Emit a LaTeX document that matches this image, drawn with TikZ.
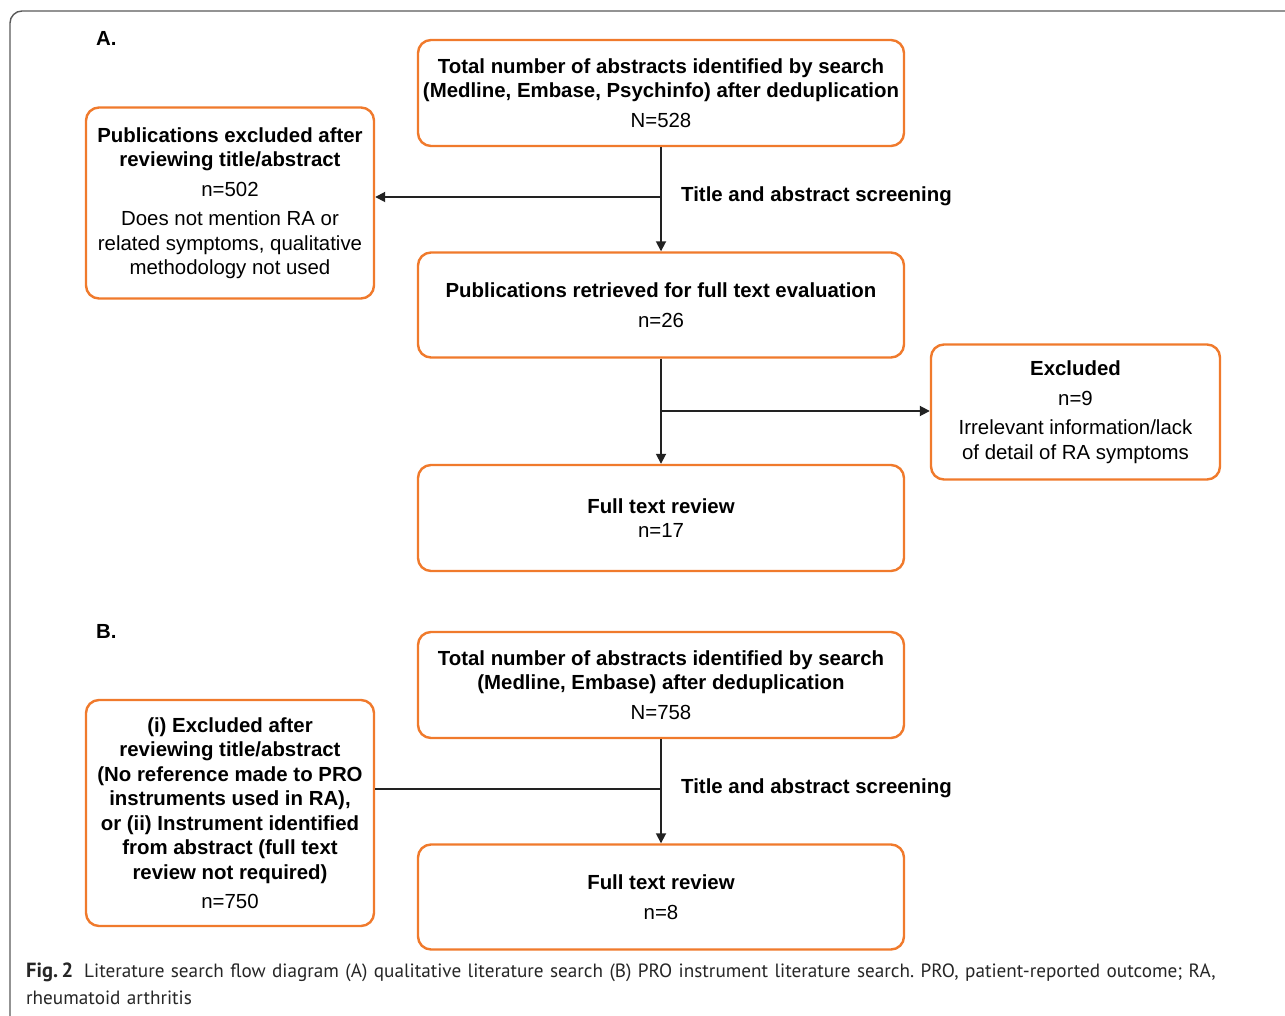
\documentclass[tikz,border=0pt]{standalone}
\usepackage{fontspec}
\setmainfont{Liberation Sans}
\newfontfamily\capfont{PT Sans}
\usetikzlibrary{arrows.meta}
\definecolor{boxorange}{RGB}{240,122,44}
\definecolor{linegray}{RGB}{34,34,34}
\definecolor{framegray}{RGB}{90,90,90}
\tikzset{
  fbox/.style={draw=boxorange, line width=2.4pt, rounded corners=13pt, align=center, inner sep=0pt,
    font=\fontsize{20.4}{24.5}\selectfont},
  conn/.style={draw=linegray, line width=1.8pt},
  arr/.style={conn, -{Triangle[length=10pt,width=10pt]}},
  lbl/.style={font=\fontsize{20.4}{24}\selectfont\bfseries, anchor=west, inner sep=0pt},
  plabel/.style={font=\fontsize{20.4}{24}\selectfont\bfseries, anchor=west, inner sep=0pt}
}
\begin{document}
\frenchspacing
\begin{tikzpicture}[x=1pt,y=-1pt]
\useasboundingbox (0,0) rectangle (1285,1016);
\fill[white] (0,0) rectangle (1285,1016);
\draw[framegray, line width=1.4pt, rounded corners=12pt] (10,1020) -- (10,11) -- (1290,11);

% Part A
\node[plabel] (la) at (96,38) {A.};
\node[fbox, minimum width=486pt, minimum height=106pt] (a1) at (661,93)
  {\textbf{Total number of abstracts identified by search}\\\textbf{(Medline, Embase, Psychinfo) after deduplication}\\[5pt]N=528};
\node[fbox, minimum width=288pt, minimum height=191pt] (a2) at (230,203)
  {\textbf{Publications excluded after}\\\textbf{reviewing title/abstract}\\[5pt]n=502\\[5pt]Does not mention RA or\\related symptoms, qualitative\\methodology not used};
\node[fbox, minimum width=486pt, minimum height=105pt] (a3) at (661,305)
  {\textbf{Publications retrieved for full text evaluation}\\[5pt]n=26};
\node[fbox, minimum width=289pt, minimum height=135pt] (a4) at (1075.5,412)
  {\textbf{Excluded}\\[5pt]n=9\\[5pt]Irrelevant information/lack\\of detail of RA symptoms};
\node[fbox, minimum width=486pt, minimum height=106pt] (a5) at (661,518)
  {\textbf{Full text review}\\n=17};
\coordinate (s1) at (661,197);
\coordinate (s2) at (661,411);
\draw[arr] (a1.south) -- (a3.north);
\draw[arr] (s1) -- (a2.east |- s1);
\draw[arr] (a3.south) -- (a5.north);
\draw[arr] (s2) -- (a4.west |- s2);
\node[lbl] (t1) at (681,196) {Title and abstract screening};

% Part B
\node[plabel] (lb) at (96,631) {B.};
\node[fbox, minimum width=486pt, minimum height=106pt] (b1) at (661,685)
  {\textbf{Total number of abstracts identified by search}\\\textbf{(Medline, Embase) after deduplication}\\[5pt]N=758};
\node[fbox, minimum width=288pt, minimum height=226pt] (b2) at (230,813)
  {\textbf{(i) Excluded after}\\\textbf{reviewing title/abstract}\\\textbf{(No reference made to PRO}\\\textbf{instruments used in RA),}\\\textbf{or (ii) Instrument identified}\\\textbf{from abstract (full text}\\\textbf{review not required)}\\[5pt]n=750};
\node[fbox, minimum width=486pt, minimum height=105pt] (b3) at (661,897)
  {\textbf{Full text review}\\[5pt]n=8};
\coordinate (s3) at (661,789);
\draw[arr] (b1.south) -- (b3.north);
\draw[conn] (s3) -- (b2.east |- s3);
\node[lbl] (t2) at (681,788) {Title and abstract screening};

% Caption
\node[anchor=north west, align=left, inner sep=0pt, text width=1240pt,
  font=\capfont\fontsize{19.2}{27}\selectfont, text=black!85] (cap) at (26,963)
  {{\fontsize{20.5}{27}\selectfont\textbf{Fig.\,2}}\hspace{11pt}Literature search flow diagram (A) qualitative literature search (B) PRO instrument literature search. PRO, patient-reported outcome; RA,\\rheumatoid arthritis};
\end{tikzpicture}
\end{document}
